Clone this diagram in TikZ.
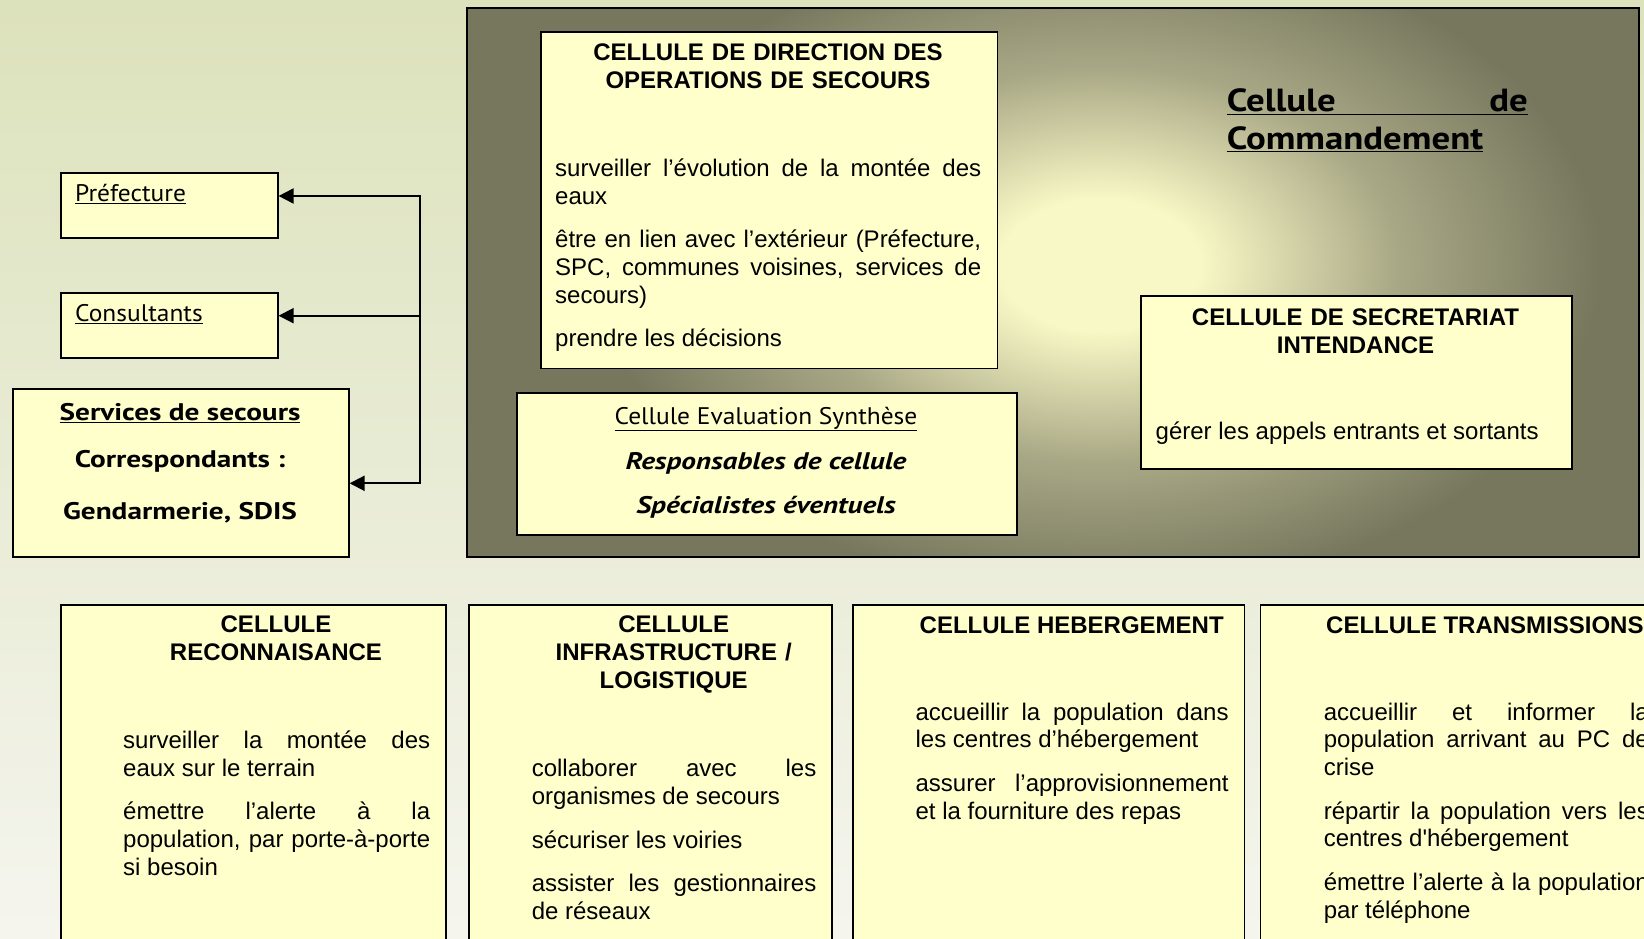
\documentclass[tikz,border=0pt]{standalone}
\usepackage{fontspec}
\setmainfont{Liberation Sans}
\newfontfamily\gill[FakeStretch=1.06]{PT Sans}
\newfontfamily\gillb[FakeStretch=1.22]{PT Sans}
\newfontfamily\gillc[FakeStretch=1.15]{PT Sans}
\usetikzlibrary{arrows.meta}
\definecolor{boxfill}{HTML}{FFFFCC}
\definecolor{bgtop}{HTML}{DCE2BB}
\definecolor{bgbot}{HTML}{F5F5EE}
\definecolor{paneldark}{HTML}{77775E}
\definecolor{panelmid}{HTML}{A8A785}
\definecolor{panellight}{HTML}{F8F8C6}
\pgfdeclareradialshading{panelglow}{\pgfpointorigin}{%
  color(0bp)=(panellight); color(5bp)=(panellight); color(15bp)=(panelmid);
  color(25bp)=(paneldark); color(50bp)=(paneldark)}
\newcommand\pgap{\par\vspace{16pt}}
\newcommand\parasetup{\tolerance=10000\relax\hbadness=10000\relax\hyphenpenalty=10000\relax}
\begin{document}
\begin{tikzpicture}[x=1pt,y=-1pt,
  cellbox/.style={draw=black, line width=1.6pt, fill=boxfill, inner sep=0pt, anchor=north west},
  head/.style={font=\bfseries\fontsize{24}{28}\selectfont, inner sep=0pt, anchor=base, align=center},
  para/.style={font=\fontsize{24}{27.7}\selectfont\parasetup,
               inner sep=0pt, anchor=base west, align=justify},
  gilltxt/.style={font=\gill\fontsize{24}{28}\selectfont, inner sep=0pt},
  gillbold/.style={font=\gillb\bfseries\fontsize{24}{28}\selectfont, inner sep=0pt},
  gillbi/.style={font=\gillb\bfseries\itshape\fontsize{24}{28}\selectfont, inner sep=0pt},
  conn/.style={line width=2pt, draw=black},
  tip/.style={-{Triangle[length=15pt,width=15pt]}}]
\useasboundingbox (0,0) rectangle (1644,939);
\clip (0,0) rectangle (1644,939);
% background
\shade[top color=bgtop, bottom color=bgbot] (0,0) rectangle (1644,939);
% command panel
\fill[paneldark] (467,8) rectangle (1639,557);
\begin{scope}
  \clip (467,8) rectangle (1639,557);
  \shade[shading=panelglow] (1100,265) ellipse [x radius=500, y radius=330];
\end{scope}
\draw[line width=1.6pt] (467,8) rectangle (1639,557);
\node[inner sep=0pt, font=\gillc\bfseries\fontsize{32}{37.5}\selectfont, anchor=base west] (cmdA) at (1226.6,111.9)
  {\underline{\hbox to 301pt{Cellule\hfill de}}};
\node[inner sep=0pt, font=\gillc\bfseries\fontsize{32}{37.5}\selectfont, anchor=base west] (cmdB) at (1226.6,149.4)
  {\underline{Commandement}};
% direction
\node[cellbox, minimum width=456.5pt, minimum height=336pt] (dir) at (540,31.5) {};
\node[head, text width=430pt] (dirh) at (768,60.2) {CELLULE DE DIRECTION DES\\OPERATIONS DE SECOURS};
\node[para, text width=426pt] (dirt) at (555,176.3)
  {surveiller l’évolution de la montée des\linebreak eaux\pgap
   être en lien avec l’extérieur (Préfecture,\linebreak SPC, communes voisines, services de\linebreak secours)\pgap
   prendre les décisions};
% evaluation
\node[cellbox, minimum width=500pt, minimum height=142pt] (eval) at (516,392) {};
\node[gilltxt, anchor=base] (evalA) at (766,424) {\underline{Cellule Evaluation Synthèse}};
\node[gillbi, anchor=base] (evalB) at (766,469) {Responsables de cellule};
\node[gillbi, anchor=base] (evalC) at (766,513) {Spécialistes éventuels};
% secretariat
\node[cellbox, minimum width=431pt, minimum height=173pt] (sec) at (1140,295) {};
\node[head, text width=420pt] (sech) at (1355.5,325.2) {CELLULE DE SECRETARIAT\\INTENDANCE};
\node[para, text width=400pt] (sect) at (1155.5,439.6) {gérer les appels entrants et sortants};
% left boxes
\node[cellbox, minimum width=217pt, minimum height=65pt] (pref) at (60,172) {};
\node[gilltxt, anchor=base west] (preft) at (75,201.7) {\underline{Préfecture}};
\node[cellbox, minimum width=217pt, minimum height=65pt] (cons) at (60,292) {};
\node[gilltxt, anchor=base west] (const) at (75,321.7) {\underline{Consultants}};
\node[cellbox, minimum width=336pt, minimum height=168pt] (serv) at (12,388) {};
\node[gillbold, anchor=base] (servA) at (180,420) {\underline{Services de secours}};
\node[gillbold, anchor=base] (servB) at (180,467.3) {Correspondants :};
\node[gillbold, anchor=base] (servC) at (180,519.3) {Gendarmerie, SDIS};
% connectors
\coordinate (busT) at (420,196);
\coordinate (busM) at (420,315.7);
\coordinate (busB) at (420,483.3);
\draw[conn, line cap=rect] (busT) -- (busB);
\draw[conn, tip] (busT) -- (busT -| pref.east);
\draw[conn, tip] (busM) -- (busM -| cons.east);
\draw[conn, tip] (busB) -- (busB -| serv.east);
% bottom row
\node[cellbox, minimum width=385pt, minimum height=360pt] (rec) at (60,604) {};
\node[head, text width=310pt] (rech) at (276,632.7) {CELLULE\\RECONNAISANCE};
\node[para, text width=307pt] (rect) at (123,748.3)
  {surveiller la montée des\linebreak eaux sur le terrain\pgap
   émettre l’alerte à la\linebreak population, par porte-à-porte\linebreak si besoin};
\node[cellbox, minimum width=363pt, minimum height=360pt] (inf) at (468,604) {};
\node[head, text width=300pt] (infh) at (673.7,632.7) {CELLULE\\INFRASTRUCTURE /\\LOGISTIQUE};
\node[para, text width=284.5pt] (inft) at (531.6,776.7)
  {collaborer avec les\linebreak organismes de secours\pgap
   sécuriser les voiries\pgap
   assister les gestionnaires\linebreak de réseaux};
\node[cellbox, minimum width=391.6pt, minimum height=360pt] (heb) at (852,604) {};
\node[head] (hebh) at (1071.7,633.3) {CELLULE HEBERGEMENT};
\node[para, text width=313pt] (hebt) at (915.4,720)
  {accueillir la population dans\linebreak les centres d’hébergement\pgap
   assurer l’approvisionnement\linebreak et la fourniture des repas};
\node[cellbox, minimum width=450pt, minimum height=360pt] (tra) at (1259.5,604) {};
\node[head, anchor=base west] (trah) at (1326,633.3) {CELLULE TRANSMISSIONS};
\node[para, text width=325pt] (trat) at (1323.6,720)
  {accueillir et informer la\linebreak population arrivant au PC de\linebreak crise\pgap
   répartir la population vers les\linebreak centres d\textquotesingle hébergement\pgap
   émettre l’alerte à la population\linebreak par téléphone};
\end{tikzpicture}
\end{document}
